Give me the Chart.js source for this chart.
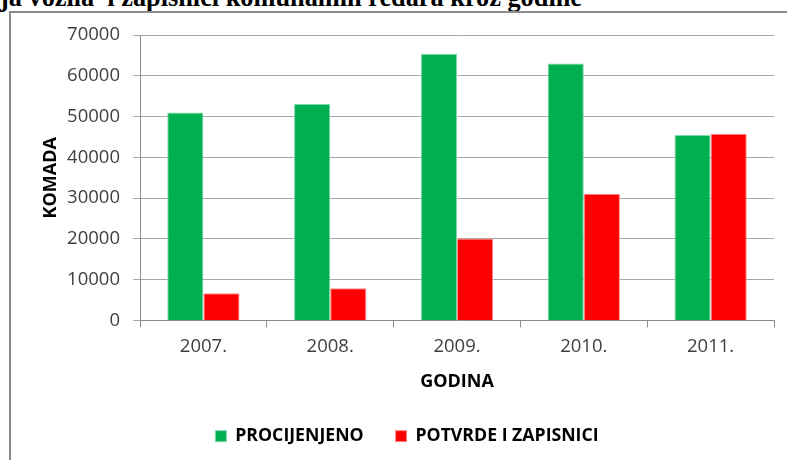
<!DOCTYPE html>
<html>
<head>
<meta charset="utf-8">
<script src="https://cdn.jsdelivr.net/npm/chart.js@4"></script>
<style>
  html, body { margin: 0; padding: 0; background: #fff; overflow: hidden; }
  body { width: 787px; height: 460px; position: relative; }
  #naslov {
    position: absolute; left: 0; top: -15px; white-space: pre;
    font: bold 26.3px/26px "Liberation Serif", serif; color: #000;
  }
  #okvir {
    position: absolute; left: 9px; top: 11px; width: 820px; height: 480px;
    border: 2px solid #8c8c8c; box-sizing: border-box;
  }
  #wrap { position: absolute; left: 0; top: 0; width: 787px; height: 460px; }
</style>
</head>
<body>
<div id="naslov">ja vozila  i zapisnici komunalnih redara kroz godine</div>
<div id="okvir"></div>
<div id="wrap"><canvas id="grafikon" width="787" height="460"></canvas></div>
<script>
  const godine = ['2007.', '2008.', '2009.', '2010.', '2011.'];
  const procijenjeno = [51000, 53100, 65400, 63000, 45500];
  const potvrdeZapisnici = [6700, 7900, 20100, 31100, 45800];
  const yTicks = [0, 10000, 20000, 30000, 40000, 50000, 60000, 70000];

  const font = '"Open Sans", sans-serif';

  new Chart(document.getElementById('grafikon'), {
    type: 'bar',
    data: {
      labels: godine,
      datasets: [{
        label: 'PROCIJENJENO',
        data: procijenjeno,
        backgroundColor: '#00B050',
        borderColor: '#7fd8a7',
        borderWidth: 1,
        categoryPercentage: 0.57,
        barPercentage: 1
      }, {
        label: 'POTVRDE I ZAPISNICI',
        data: potvrdeZapisnici,
        backgroundColor: '#FF0000',
        borderColor: '#ff8a8a',
        borderWidth: 1,
        categoryPercentage: 0.57,
        barPercentage: 1
      }]
    },
    options: {
      responsive: false,
      animation: false,
      devicePixelRatio: 1,
      layout: { padding: { left: 40, right: 13, top: 35, bottom: 5 } },
      plugins: {
        tooltip: { enabled: false },
        legend: {
          position: 'bottom',
          labels: {
            boxWidth: 11,
            boxHeight: 11,
            padding: 32,
            color: '#000',
            font: { family: font, size: 17.7, weight: 'bold' }
          }
        }
      },
      scales: {
        x: {
          grid: { drawOnChartArea: false, drawTicks: true, tickLength: 7, color: '#8c8c8c', offset: true },
          border: { color: '#8c8c8c' },
          ticks: { color: '#404040', padding: 8, font: { family: font, size: 18.5 } },
          title: {
            display: true, text: 'GODINA', color: '#000',
            font: { family: font, size: 18, weight: 'bold' },
            padding: { top: 5, bottom: 3 }
          }
        },
        y: {
          min: 0,
          max: 70000,
          afterFit: scale => { scale.width = 100; },
          afterBuildTicks: scale => { scale.ticks = yTicks.map(v => ({ value: v })); },
          grid: { color: '#a6a6a6', tickLength: 7 },
          border: { color: '#8c8c8c' },
          ticks: {
            color: '#404040', padding: 13,
            font: { family: font, size: 18.5 },
            callback: v => String(v)
          },
          title: {
            display: true, text: 'KOMADA', color: '#000',
            font: { family: font, size: 18, weight: 'bold' },
            padding: { top: 0, bottom: 0 }
          }
        }
      }
    }
  });
</script>
</body>
</html>
